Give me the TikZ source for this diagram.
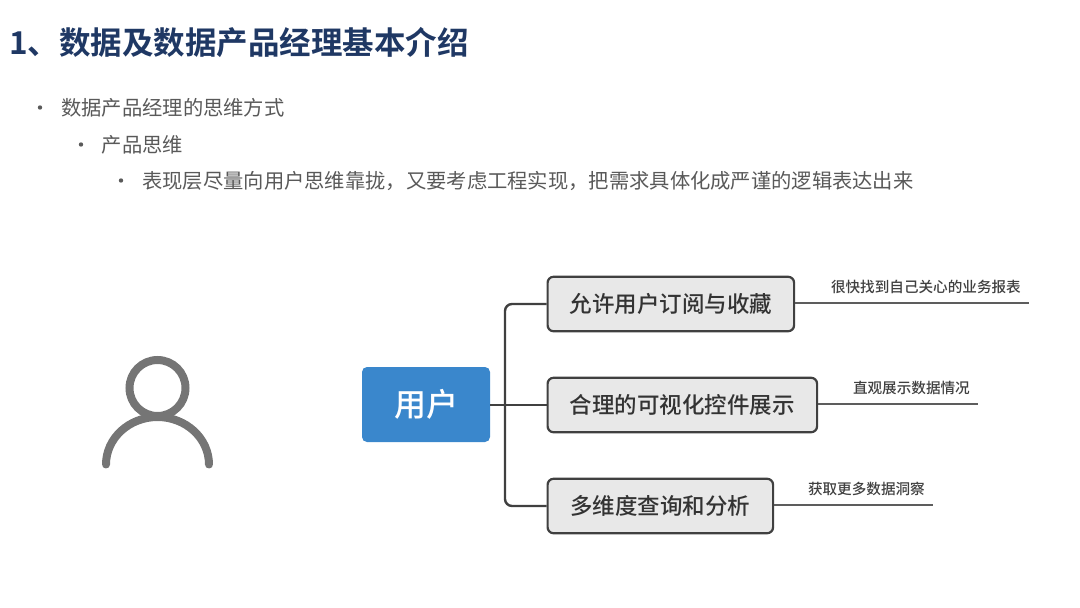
\documentclass[tikz,border=0pt]{standalone}
\usepackage{fontspec}
\usetikzlibrary{positioning}
\setmainfont[BoldFont={Noto Sans CJK SC Bold}]{Noto Sans CJK SC}
\newfontfamily\medfont{Noto Sans CJK SC Medium}
\definecolor{titleblue}{RGB}{31,56,100}
\definecolor{bodygray}{RGB}{89,89,89}
\definecolor{linedark}{RGB}{64,64,64}
\definecolor{softgray}{RGB}{232,232,232}
\definecolor{userblue}{RGB}{58,135,204}
\definecolor{icongray}{RGB}{117,117,117}
\tikzset{
  bullettext/.style={
    anchor=west,
    inner sep=0pt,
    text=bodygray,
    font=\fontsize{20.3}{24}\selectfont
  },
  dot/.style={
    circle,
    fill=bodygray,
    inner sep=0pt,
    minimum size=4.4pt
  },
  rootbox/.style={
    fill=userblue,
    rounded corners=5pt,
    text=white,
    align=center,
    minimum width=128pt,
    minimum height=75pt,
    font=\fontsize{32}{36}\selectfont\medfont
  },
  optbox/.style={
    draw=linedark,
    line width=2.2pt,
    rounded corners=6pt,
    fill=softgray,
    text=black!80,
    anchor=west,
    minimum height=54.5pt,
    font=\fontsize{22.5}{26}\selectfont\medfont
  },
  leaftext/.style={
    inner sep=0pt,
    text=black!75,
    font=\fontsize{14.6}{18}\selectfont\medfont
  },
  branch/.style={draw=linedark, line width=2.4pt, rounded corners=7pt},
  leafline/.style={draw=linedark!85, line width=1.4pt},
  icon/.style={draw=icongray, line width=8pt, line cap=round}
}

\begin{document}
\begin{tikzpicture}[x=1pt, y=-1pt]
    \useasboundingbox (0,0) rectangle (1080,608);
    % heading and bullets
    \node[anchor=west, inner sep=0pt, text=titleblue, font=\fontsize{31.5}{36}\selectfont\bfseries] (heading) at (9,42.5) {1、数据及数据产品经理基本介绍};
    \node[dot] (b1) at (40,107.5) {};
    \node[bullettext] (t1) at (61,108) {数据产品经理的思维方式};
    \node[dot] (b2) at (81,144.5) {};
    \node[bullettext] (t2) at (101.5,145) {产品思维};
    \node[dot] (b3) at (121,180.5) {};
    \node[bullettext] (t3) at (142,181) {表现层尽量向用户思维靠拢，又要考虑工程实现，把需求具体化成严谨的逻辑表达出来};
    % person icon
    \draw[icon] (157.5,388) circle (28);
    \draw[icon] (106,464.5) arc[start angle=180, end angle=360, x radius=51.5, y radius=47.5];
    % mind map
    \node[rootbox] (user) at (426,404.5) {用户};
    \node[optbox, minimum width=246.5pt] (subscribe) at (546.5,304) {允许用户订阅与收藏};
    \node[optbox, minimum width=269.5pt] (chart) at (546.5,405) {合理的可视化控件展示};
    \node[optbox, minimum width=225.5pt] (query) at (546.5,506) {多维度查询和分析};
    \coordinate (bus) at (505,405);
    \draw[branch] (user.east |- chart.west) -- (chart.west);
    \draw[branch] (bus) |- (subscribe.west);
    \draw[branch] (bus) |- (query.west);
    % leaves
    \coordinate (end1) at (1029,303);
    \coordinate (end2) at (978,404);
    \coordinate (end3) at (933,505);
    \draw[leafline] (subscribe.east |- end1) -- (end1);
    \draw[leafline] (chart.east |- end2) -- (end2);
    \draw[leafline] (query.east |- end3) -- (end3);
    \node[leaftext, above left=9.5pt and 8pt of end1] (leaf1) {很快找到自己关心的业务报表};
    \node[leaftext, above left=9.5pt and 8pt of end2] (leaf2) {直观展示数据情况};
    \node[leaftext, above left=9.5pt and 8pt of end3] (leaf3) {获取更多数据洞察};
\end{tikzpicture}
\end{document}
